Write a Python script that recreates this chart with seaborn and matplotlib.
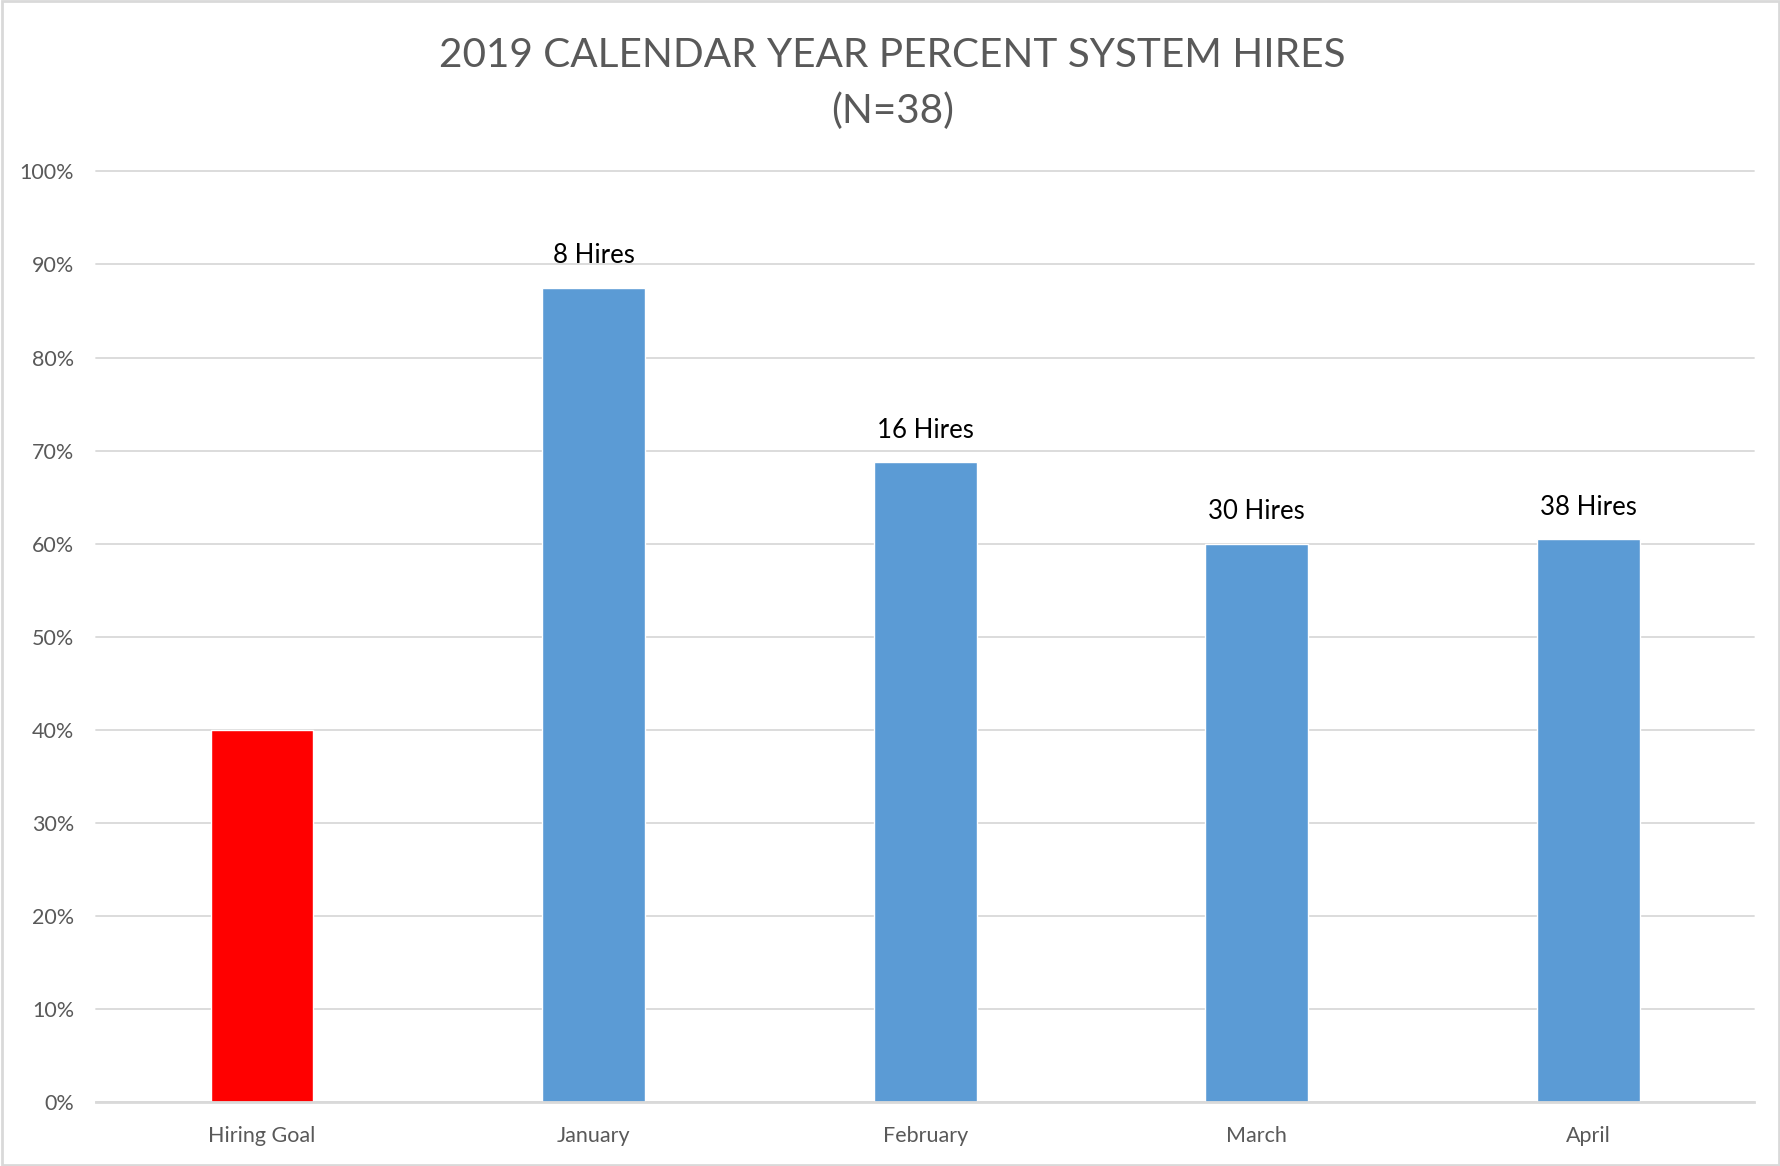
import matplotlib
matplotlib.use("Agg")
import matplotlib.pyplot as plt
from matplotlib.patches import Rectangle
from matplotlib.ticker import PercentFormatter, FixedLocator
import seaborn as sns
import pandas as pd

# Chart data
categories = ["Hiring Goal", "January", "February", "March", "April"]
percent_hired = [40.0, 87.5, 68.75, 60.0, 60.5]
hire_counts = [None, 8, 16, 30, 38]
bar_colors = ["#FF0000", "#5B9BD5", "#5B9BD5", "#5B9BD5", "#5B9BD5"]
title_lines = ["2019 CALENDAR YEAR PERCENT SYSTEM HIRES", "(N=38)"]

sns.set_theme(style="white")
plt.rcParams["font.family"] = ["Lato", "DejaVu Sans"]

df = pd.DataFrame({"category": categories, "pct": percent_hired})

fig = plt.figure(figsize=(17.81, 11.66), dpi=100)
ax = fig.add_axes([0.0540, 0.0549, 0.9310, 0.7981])

sns.barplot(data=df, x="category", y="pct", hue="category",
            palette=dict(zip(categories, bar_colors)), order=categories,
            width=0.31, saturation=1, legend=False, ax=ax)

ax.set_xlim(-0.5, len(categories) - 0.5)
ax.set_ylim(0, 100)
ax.yaxis.set_major_locator(FixedLocator(range(0, 101, 10)))
ax.yaxis.set_major_formatter(PercentFormatter(decimals=0))
ax.grid(axis="y", color="#D9D9D9", linewidth=1.3)
ax.set_axisbelow(True)
for gl in ax.get_ygridlines():
    gl.set_clip_on(False)
for s in ["top", "right", "left"]:
    ax.spines[s].set_visible(False)
ax.spines["bottom"].set_color("#D9D9D9")
ax.spines["bottom"].set_linewidth(2)
ax.set_xlabel("")
ax.set_ylabel("")
ax.tick_params(axis="y", length=0, pad=16, labelsize=15.5, labelcolor="#595959")
ax.tick_params(axis="x", length=0, pad=17, labelsize=15.5, labelcolor="#595959")

# Hire count labels above the monthly bars
for i, (pct, n) in enumerate(zip(percent_hired, hire_counts)):
    if n is not None:
        ax.annotate(f"{n} Hires", (i, pct), xytext=(0, 14), textcoords="offset points",
                    ha="center", va="bottom", fontsize=18.5, color="black")

fig.text(0.501, 0.952, title_lines[0], ha="center", va="center",
         fontsize=29.2, color="#595959")
fig.text(0.501, 0.905, title_lines[1], ha="center", va="center",
         fontsize=29.2, color="#595959")

# Chart area border
fig.patches.append(Rectangle((0.001, 0.001), 0.998, 0.998, transform=fig.transFigure,
                             fill=False, edgecolor="#D9D9D9", linewidth=2))

fig.savefig("out.png", dpi=100, facecolor="white")
